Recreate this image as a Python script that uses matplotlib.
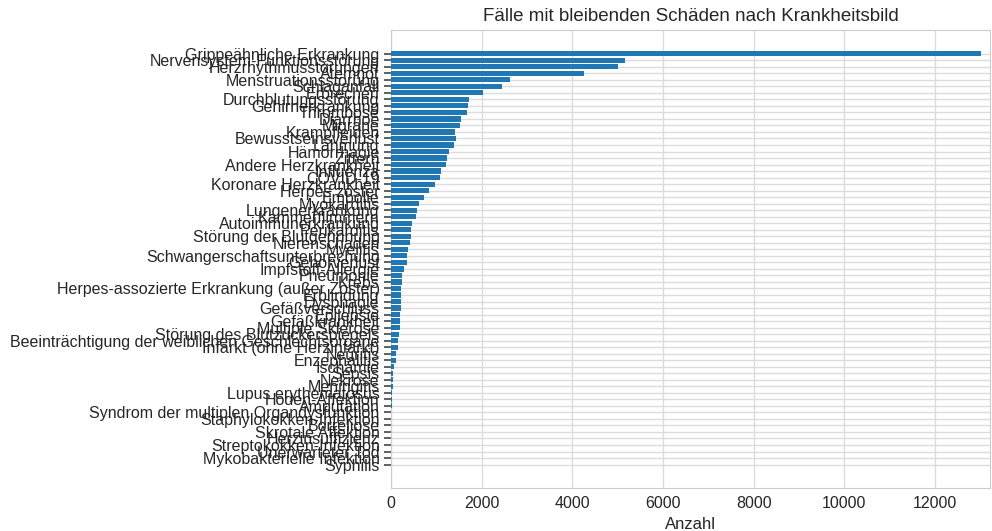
import matplotlib
matplotlib.use("Agg")
from matplotlib import pyplot as plt

# Krankheitsbilder, absteigend nach Anzahl
krankheiten = [
    "Grippeähnliche Erkrankung", "Nervensystem-Funktionsstörung", "Herzrhythmusstörungen",
    "Atemnot", "Menstruationsstörung", "Schlaganfall", "Erbrechen", "Durchblutungsstörung",
    "Gehirnerkrankung", "Thrombose", "Diarrhoe", "Migräne", "Krampfleiden",
    "Bewusstseinsverlust", "Lähmung", "Hämorrhagie", "Zittern", "Andere Herzkrankheit",
    "Influenza", "COVID-19", "Koronare Herzkrankheit", "Herpes zoster", "Embolie",
    "Myokarditis", "Lungenerkrankung", "Kammerflimmern", "Autoimmunerkrankung",
    "Perikarditis", "Störung der Blutgerinnung", "Nierenschaden", "Myelitis",
    "Schwangerschaftsunterbrechung", "Gehörverlust", "Impfstoff-Allergie", "Pneumonie",
    "Krebs", "Herpes-assozierte Erkrankung (außer Zoster)", "Erblindung", "Dysphagie",
    "Gefäßverschluss", "Epilepsie", "Gefäßkrankheit", "Multiple Sklerose",
    "Störung des Blutzuckerspiegels", "Beeinträchtigung der weiblichen Geschlechtsorgane",
    "Infarkt (ohne Herzinfarkt)", "Neuritis", "Enzephalitis", "Ischämie", "Sepsis",
    "Nekrose", "Meningitis", "Lupus erythematosus", "Hoden-Affektion", "Amputation",
    "Syndrom der multiplen Organdysfunktion", "Staphylokokken-Infektion", "Borreliose",
    "Skrotale Affektion", "Herzinsuffizienz", "Streptokokken-Infektion",
    "Unerwarteter Tod", "Mykobakterielle Infektion", "Syphilis",
]
anzahl = [
    13017, 5167, 5010, 4268, 2626, 2442, 2024, 1726,
    1691, 1674, 1543, 1525, 1421,
    1430, 1394, 1282, 1240, 1210,
    1097, 1082, 978, 851, 739,
    612, 567, 552, 470,
    440, 440, 425, 388,
    351, 351, 295, 254,
    254, 224, 224, 224,
    224, 209, 194, 194,
    179, 164,
    149, 104, 104, 75, 45,
    45, 40, 15, 15, 15,
    3, 3, 2,
    2, 1, 1,
    1, 1, 1,
]

plt.rcParams["font.family"] = ["Liberation Sans", "DejaVu Sans"]
plt.rcParams["text.color"] = "#262626"
plt.rcParams["axes.labelcolor"] = "#262626"
plt.rcParams["xtick.color"] = "#262626"
plt.rcParams["ytick.color"] = "#262626"

fig = plt.figure(figsize=(9.92, 5.31), dpi=100)
ax = fig.add_axes([0.394, 0.081, 0.604, 0.862])

ax.barh(krankheiten, anzahl, color="#1f77b4", zorder=3)
ax.invert_yaxis()
ax.set_xlim(0, 13215)

ax.grid(True, color="#dcdcdc", linewidth=1, zorder=0)
ax.set_axisbelow(True)
for s in ax.spines.values():
    s.set_color("#cccccc")
ax.tick_params(axis="y", length=5, width=1.2, color="#444444", labelsize=11.5, pad=3)
ax.tick_params(axis="x", length=0, labelsize=11.5, pad=6)

ax.set_xlabel("Anzahl", fontsize=12)
ax.set_title("Fälle mit bleibenden Schäden nach Krankheitsbild", fontsize=13.5, pad=7)

fig.savefig("out.png", dpi=100)
